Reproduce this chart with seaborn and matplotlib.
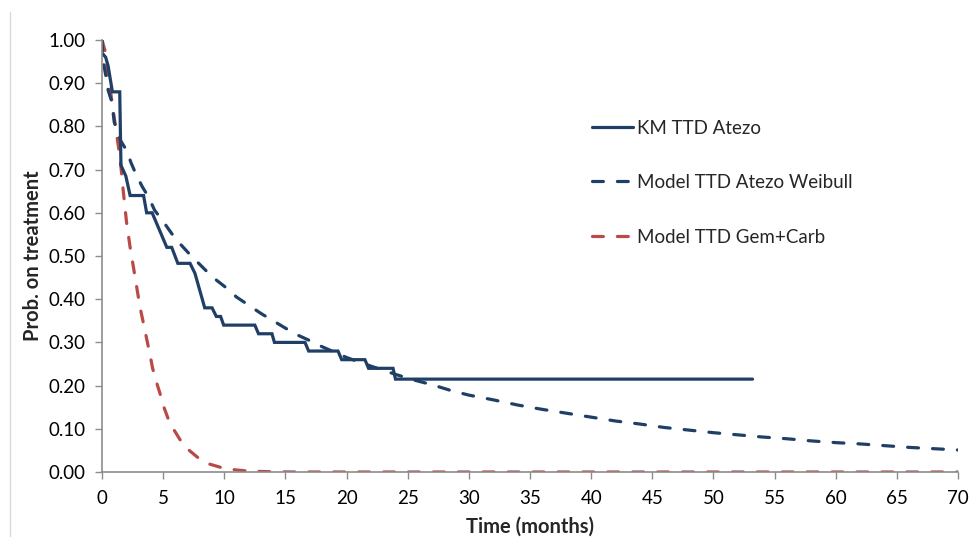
import numpy as np
import pandas as pd
import seaborn as sns
import matplotlib.pyplot as plt
from matplotlib.lines import Line2D
from matplotlib.ticker import FormatStrFormatter

# KM TTD Atezo (step curve)
km_time = [0, 0.3, 0.5, 0.85, 1.45, 1.55, 1.95, 2.3, 3.4, 3.65, 4.1, 4.7, 5.3, 5.7,
           6.2, 7.2, 7.6, 8.4, 9.0, 9.35, 9.7, 9.95, 12.5, 12.8, 13.9, 14.1, 16.6,
           16.9, 19.3, 19.6, 21.5, 21.8, 23.8, 24.0, 53.2]
km_prob = [0.97, 0.96, 0.94, 0.88, 0.88, 0.71, 0.685, 0.64, 0.64, 0.60, 0.60, 0.56,
           0.52, 0.52, 0.483, 0.483, 0.46, 0.38, 0.38, 0.36, 0.36, 0.34, 0.34, 0.32,
           0.32, 0.30, 0.30, 0.28, 0.28, 0.26, 0.26, 0.24, 0.24, 0.215, 0.215]

# Model TTD Atezo Weibull
wb_time = [0, 0.1, 0.33, 0.5, 0.8, 1.0, 1.5, 2.0, 2.4, 2.8, 3.3, 3.8, 4.3, 5, 6, 7.3,
           8.3, 9, 10, 11, 12, 13, 14, 15, 16, 17, 18, 20, 22, 24, 25.5, 27, 28.6,
           30, 32, 34, 36, 38, 40, 42, 44, 46, 48, 50, 52, 54, 56, 58, 60, 62, 64,
           66, 68, 70]
wb_prob = [1.0, 0.95, 0.915, 0.884, 0.857, 0.81, 0.768, 0.745, 0.714, 0.688, 0.66,
           0.637, 0.606, 0.58, 0.54, 0.50, 0.472, 0.452, 0.43, 0.405, 0.386, 0.367,
           0.35, 0.333, 0.317, 0.304, 0.29, 0.265, 0.245, 0.226, 0.213, 0.202, 0.188,
           0.178, 0.167, 0.155, 0.145, 0.136, 0.127, 0.118, 0.111, 0.103, 0.097,
           0.091, 0.086, 0.081, 0.077, 0.072, 0.068, 0.065, 0.061, 0.057, 0.054, 0.051]

# Model TTD Gem+Carb
gc_time = [0, 0.25, 0.5, 0.8, 1.0, 1.2, 1.47, 1.74, 2.0, 2.3, 2.7, 3.1, 3.5, 3.9,
           4.14, 4.4, 4.74, 5.0, 5.4, 5.83, 6.4, 7.05, 7.9, 8.7, 9.8, 10.9, 12, 14,
           16, 20, 30, 40, 50, 60, 70]
gc_prob = [1.0, 0.975, 0.92, 0.86, 0.82, 0.78, 0.73, 0.65, 0.58, 0.52, 0.452, 0.383,
           0.329, 0.275, 0.24, 0.213, 0.182, 0.155, 0.124, 0.10, 0.074, 0.052, 0.032,
           0.019, 0.01, 0.005, 0.002, 0.0005, 0, 0, 0, 0, 0, 0, 0]

labels = ["KM TTD Atezo", "Model TTD Atezo Weibull", "Model TTD Gem+Carb"]
navy = "#203F66"
red = "#B94A48"
dash = (3.4, 4.4)

sns.set_style("white")
plt.rcParams['font.family'] = ['Lato', 'DejaVu Sans']

fig = plt.figure(figsize=(9.73, 5.37), dpi=100)
ax = fig.add_axes([102 / 973, 65 / 537, 856 / 973, 432 / 537])

km = pd.DataFrame({"t": km_time, "p": km_prob})
wb = pd.DataFrame({"t": wb_time, "p": wb_prob})
gc = pd.DataFrame({"t": gc_time, "p": gc_prob})

lw = 2.3
sns.lineplot(data=gc, x="t", y="p", ax=ax, color=red, lw=lw, estimator=None,
             sort=False)
sns.lineplot(data=wb, x="t", y="p", ax=ax, color=navy, lw=lw, estimator=None,
             sort=False)
sns.lineplot(data=km, x="t", y="p", ax=ax, color=navy, lw=lw, estimator=None,
             sort=False)
ax.lines[0].set_dashes(dash)
ax.lines[1].set_dashes(dash)
for ln in ax.lines:
    ln.set_solid_joinstyle("miter")
    ln.set_dash_capstyle("round")

ax.set_xlim(0, 70)
ax.set_ylim(0, 1)
ax.set_xticks(np.arange(0, 71, 5))
ax.set_yticks(np.arange(0, 1.01, 0.1))
ax.yaxis.set_major_formatter(FormatStrFormatter("%.2f"))
ax.tick_params(axis="both", which="major", direction="out", length=5, width=1,
               color="#8C8C8C", labelsize=13.5, labelcolor="black", bottom=True,
               left=True)
ax.tick_params(axis="x", pad=8)
ax.tick_params(axis="y", pad=7)

for side in ["top", "right"]:
    ax.spines[side].set_visible(False)
for side in ["left", "bottom"]:
    ax.spines[side].set_color("#8C8C8C")
    ax.spines[side].set_linewidth(1.2)

ax.set_xlabel("Time (months)", fontsize=14.5, fontweight="bold", labelpad=7)
ax.set_ylabel("Prob. on treatment", fontsize=14.5, fontweight="bold", labelpad=4)

handles = [Line2D([], [], color=navy, lw=lw),
           Line2D([], [], color=navy, lw=lw, dashes=dash, dash_capstyle="round"),
           Line2D([], [], color=red, lw=lw, dashes=dash, dash_capstyle="round")]
ax.legend(handles, labels, loc="upper left", bbox_to_anchor=(0.553, 0.855),
          frameon=False, fontsize=13.5, labelspacing=2.0, handlelength=2.2,
          handletextpad=0.2)

fig.add_artist(Line2D([10 / 973, 10 / 973], [0, 1 - 12 / 537], color="#D9D9D9",
                      lw=1, transform=fig.transFigure))

fig.savefig("out.png", dpi=100)
